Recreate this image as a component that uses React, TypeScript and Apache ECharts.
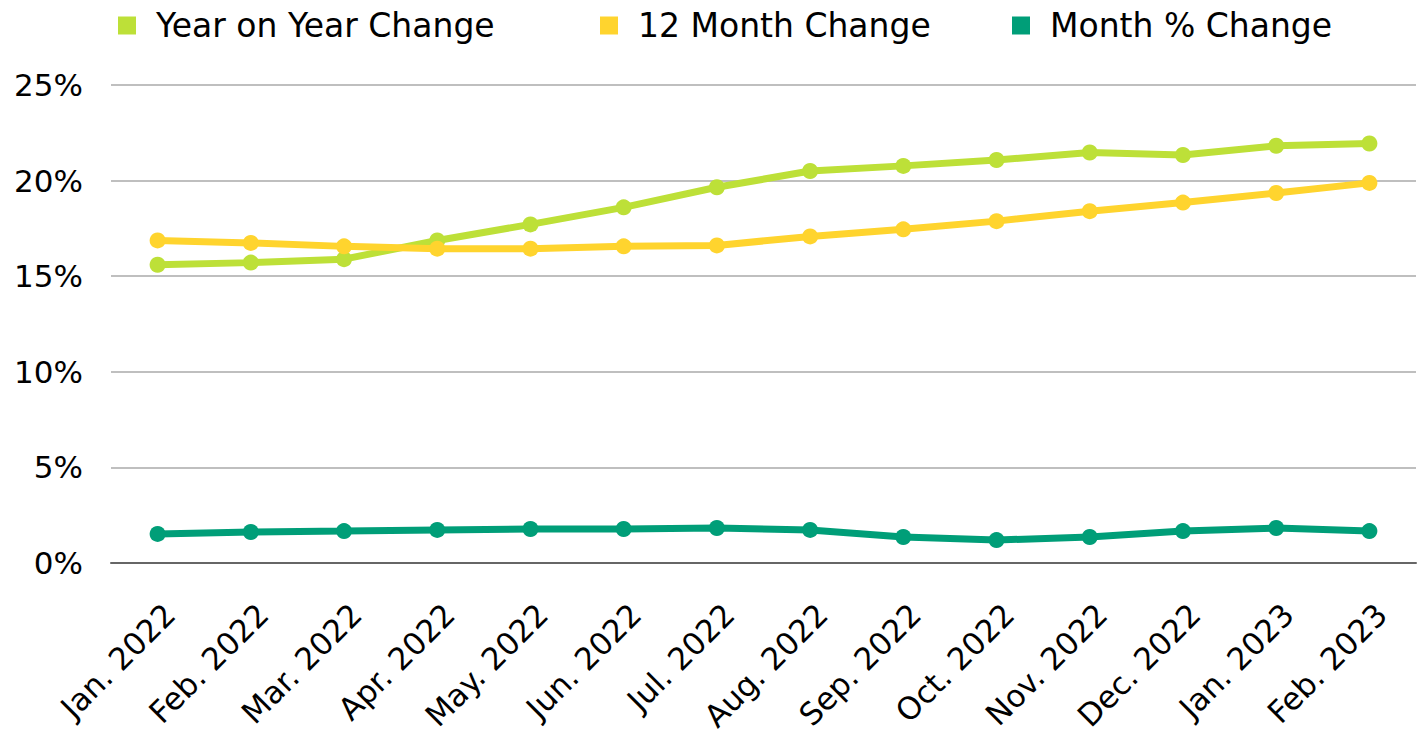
import React, { useEffect, useRef } from "react";
import * as echarts from "echarts";

const categories = [
  "Jan. 2022", "Feb. 2022", "Mar. 2022", "Apr. 2022", "May. 2022", "Jun. 2022", "Jul. 2022",
  "Aug. 2022", "Sep. 2022", "Oct. 2022", "Nov. 2022", "Dec. 2022", "Jan. 2023", "Feb. 2023",
];
const yearOnYear = [15.6, 15.71, 15.89, 16.87, 17.71, 18.6, 19.65, 20.5, 20.77, 21.08, 21.47, 21.34, 21.82, 21.94];
const twelveMonth = [16.87, 16.74, 16.56, 16.44, 16.44, 16.56, 16.61, 17.08, 17.45, 17.88, 18.4, 18.85, 19.35, 19.88];
const monthPct = [1.52, 1.62, 1.67, 1.73, 1.78, 1.78, 1.83, 1.73, 1.36, 1.2, 1.36, 1.67, 1.83, 1.67];

const seriesNames = ["Year on Year Change", "12 Month Change", "Month % Change"];
const colors = ["#BDE038", "#FFD42E", "#009E78"];
const legendLefts = [113, 595, 1007];

export default function App() {
  const ref = useRef<HTMLDivElement>(null);
  useEffect(() => {
    document.body.style.margin = "0";
    if (!ref.current) return;
    const chart = echarts.init(ref.current, null, { renderer: "svg" });
    const font = "'DejaVu Sans', sans-serif";
    const data = [yearOnYear, twelveMonth, monthPct];
    chart.setOption({
      animation: false,
      color: colors,
      textStyle: { fontFamily: font },
      legend: seriesNames.map((name, i) => ({
        top: 4,
        left: legendLefts[i],
        itemWidth: 18,
        itemHeight: 18,
        icon: "rect",
        data: [name],
        textStyle: { fontSize: 33, color: "#000", fontFamily: font, padding: [0, 0, 0, 15] },
      })),
      grid: { left: 111, right: 9, top: 85, bottom: 177, containLabel: false, outerBoundsMode: "none" },
      xAxis: {
        type: "category",
        data: categories,
        boundaryGap: true,
        axisLine: { show: true, lineStyle: { color: "#666666", width: 2 } },
        axisTick: { show: false },
        axisLabel: {
          rotate: 45,
          fontSize: 31,
          color: "#000",
          fontFamily: font,
          margin: 58,
          interval: 0,
          padding: [0, -17, 0, 0],
        },
      },
      yAxis: {
        type: "value",
        min: 0,
        max: 25,
        interval: 5,
        axisLine: { show: false },
        axisTick: { show: false },
        splitLine: { lineStyle: { color: "#BFBFBF", width: 2 } },
        axisLabel: { formatter: "{value}%", fontSize: 31, color: "#000", fontFamily: font, margin: 28 },
      },
      series: seriesNames.map((name, i) => ({
        name,
        type: "line",
        data: data[i],
        symbol: "circle",
        symbolSize: 16,
        lineStyle: { width: 7, color: colors[i] },
        itemStyle: { color: colors[i] },
      })),
    });
    return () => chart.dispose();
  }, []);
  return <div ref={ref} style={{ width: 1425, height: 740 }} />;
}
